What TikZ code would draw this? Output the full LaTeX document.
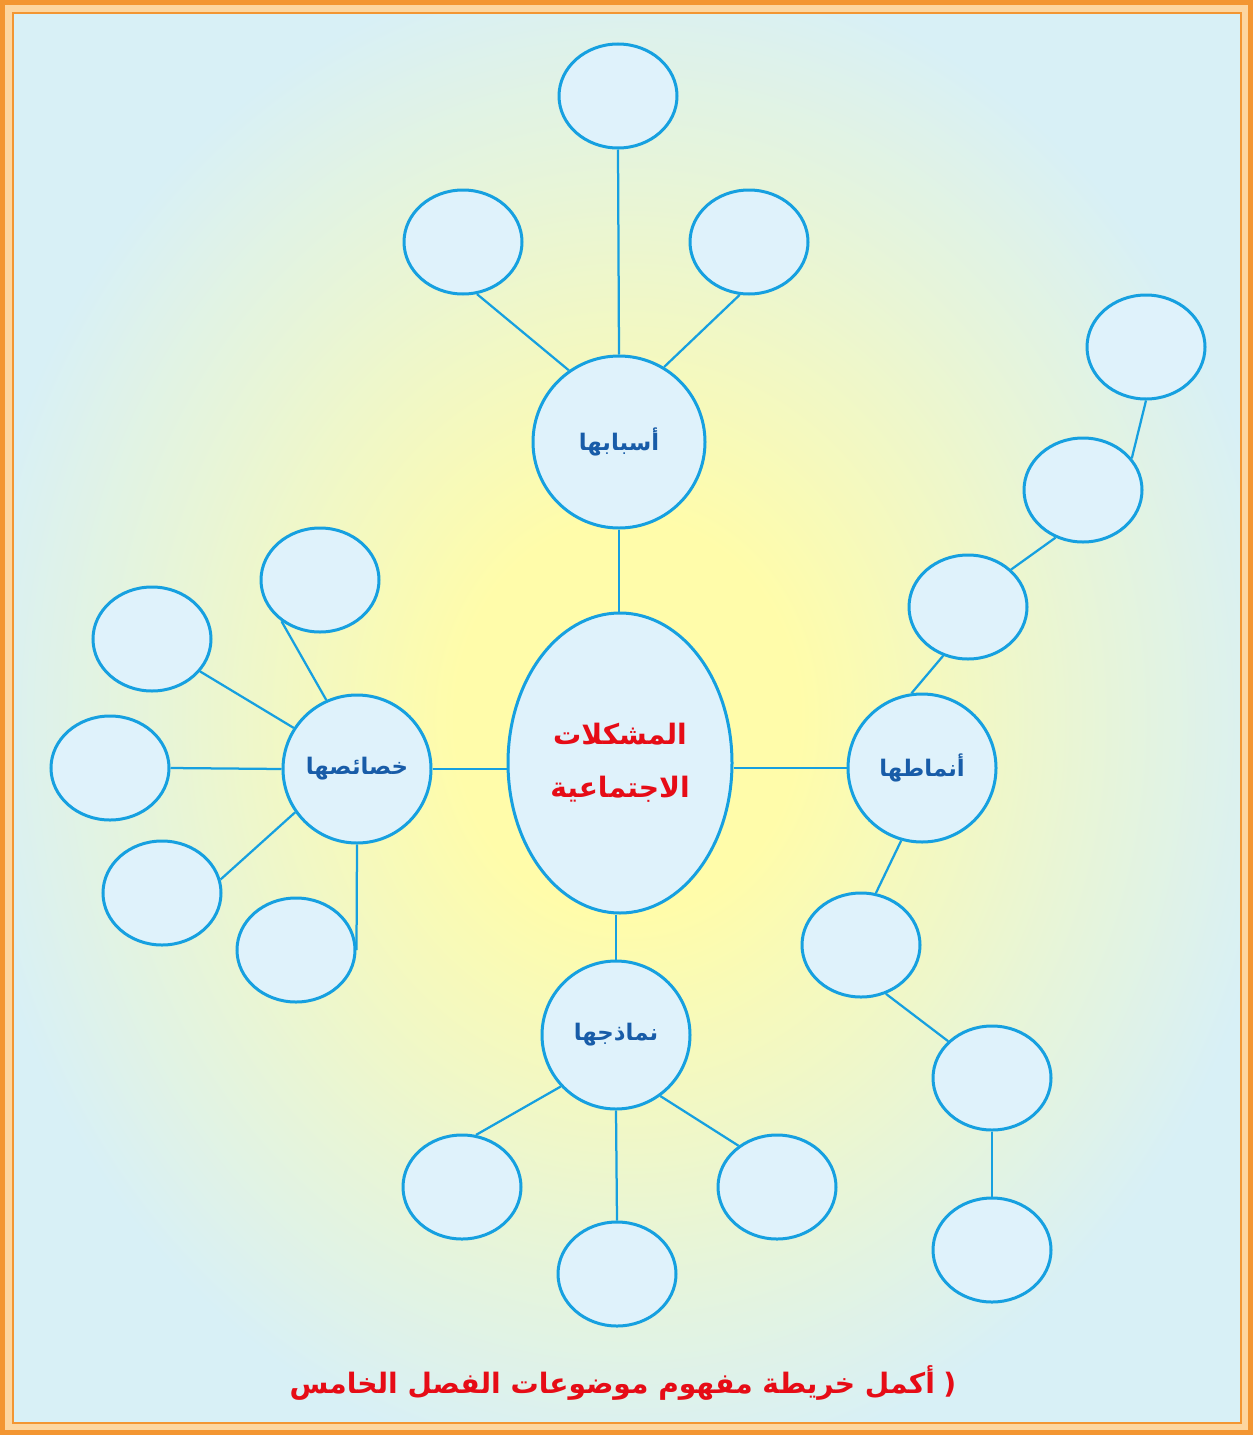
\documentclass[tikz,border=0pt]{standalone}
\usepackage{fontspec}
\usepackage{tikz}
\usetikzlibrary{shapes.geometric, positioning}
\newfontfamily\arabicfont[Script=Arabic]{DejaVu Sans}
\TeXXeTstate=1
\definecolor{MapBlue}{RGB}{22,160,224}
\definecolor{MapFill}{RGB}{223,242,251}
\definecolor{MapText}{RGB}{24,92,168}
\definecolor{MapRed}{RGB}{230,12,22}
\definecolor{BgBlue}{RGB}{216,240,246}
\definecolor{BgGlow}{RGB}{255,252,170}
\definecolor{FrameOrange}{RGB}{243,150,50}
\definecolor{FrameLight}{RGB}{253,214,160}
\newcommand{\artext}[1]{{\arabicfont\bfseries\beginR #1\endR}}
\pgfdeclareradialshading{glow}{\pgfpoint{0bp}{0bp}}{%
  color(0bp)=(BgGlow); color(7bp)=(BgGlow);
  color(27bp)=(BgBlue); color(50bp)=(BgBlue)}

\begin{document}
\begin{tikzpicture}[x=0.2mm, y=-0.2mm,
          topic/.style={circle, draw=MapBlue, fill=MapFill, line width=0.6mm,
                        minimum size=29.6mm, inner sep=0pt, text=MapText,
                        font=\fontsize{13}{15}\selectfont},
          leaf/.style={ellipse, draw=MapBlue, fill=MapFill, line width=0.6mm,
                       minimum width=23.6mm, minimum height=20.8mm, inner sep=0pt},
          link/.style={draw=MapBlue, line width=0.45mm}
        ]
        % frame and background
        \fill[FrameLight] (0,0) rectangle (1253,1435);
        \draw[FrameOrange, line width=1mm] (2.5,2.5) rectangle (1250.5,1432.5);
        \shade[shading=glow] (14,14) rectangle (1240,1422);
        \draw[FrameOrange, line width=0.4mm] (13,13) rectangle (1241,1423);

        % centre
        \node[ellipse, draw=MapBlue, fill=MapFill, line width=0.6mm,
              minimum width=44.8mm, minimum height=60mm, inner sep=0pt,
              text=MapRed, align=center, font=\fontsize{16}{30}\selectfont]
              (root) at (620,763)
              {\artext{المشكلات}\\\artext{الاجتماعية}};

        \node[topic, minimum size=34.4mm] (asbab)    at (619,442)  {\artext{أسبابها}};
        \node[topic] (khasais)  at (357,769)  {\artext{خصائصها}};
        \node[topic] (anmat)    at (922,768)  {\artext{أنماطها}};
        \node[topic] (namadhij) at (616,1035) {\artext{نماذجها}};

        \node[leaf] (asbabTop) at (618,96)  {};
        \node[leaf] (asbabL)   at (463,242) {};
        \node[leaf] (asbabR)   at (749,242) {};

        \node[leaf] (khas1) at (320,580) {};
        \node[leaf] (khas2) at (152,639) {};
        \node[leaf] (khas3) at (110,768) {};
        \node[leaf] (khas4) at (162,893) {};
        \node[leaf] (khas5) at (296,950) {};

        \node[leaf] (anmatU1) at (968,607)   {};
        \node[leaf] (anmatU2) at (1083,490)  {};
        \node[leaf] (anmatU3) at (1146,347)  {};
        \node[leaf] (anmatD1) at (861,945)   {};
        \node[leaf] (anmatD2) at (992,1078)  {};
        \node[leaf] (anmatD3) at (992,1250)  {};

        \node[leaf] (nam1) at (462,1187) {};
        \node[leaf] (nam2) at (617,1274) {};
        \node[leaf] (nam3) at (777,1187) {};

        % connectors
        \draw[link] (asbab.south |- root.north) -- (asbab.south);
        \draw[link] (khasais.east -| root.west) -- (khasais.east);
        \draw[link] (anmat.west -| root.east)   -- (anmat.west);
        \draw[link] (namadhij.north |- root.south) -- (namadhij.north);

        \draw[link] (asbab.north) -- (asbabTop.south);
        \draw[link] (asbab.125)   -- (asbabL.-75);
        \draw[link] (asbab.59)    -- (asbabR.260);

        \draw[link] (khasais.114) -- (khas1.227);
        \draw[link] (khasais.147) -- (khas2.-34);
        \draw[link] (khasais.west) -- (khas3.east);
        \draw[link] (khasais.215) -- (khas4.13);
        \draw[link] (khasais.south) -- (khas5.east);

        \draw[link] (anmat.98)    -- (anmatU1.243);
        \draw[link] (anmatU1.41)  -- (anmatU2.240);
        \draw[link] (anmatU2.33)  -- (anmatU3.south);
        \draw[link] (anmat.254)   -- (anmatD1.74);
        \draw[link] (anmatD1.-63) -- (anmatD2.140);
        \draw[link] (anmatD2.south) -- (anmatD3.north);

        \draw[link] (namadhij.223)   -- (nam1.75);
        \draw[link] (namadhij.south) -- (nam2.north);
        \draw[link] (namadhij.-54)   -- (nam3.133);

        \node[text=MapRed, font=\fontsize{16}{20}\selectfont] (task) at (623,1383)
              {\artext{أكمل خريطة مفهوم موضوعات الفصل الخامس}\ {\arabicfont\bfseries(}};
      \end{tikzpicture}
\end{document}
